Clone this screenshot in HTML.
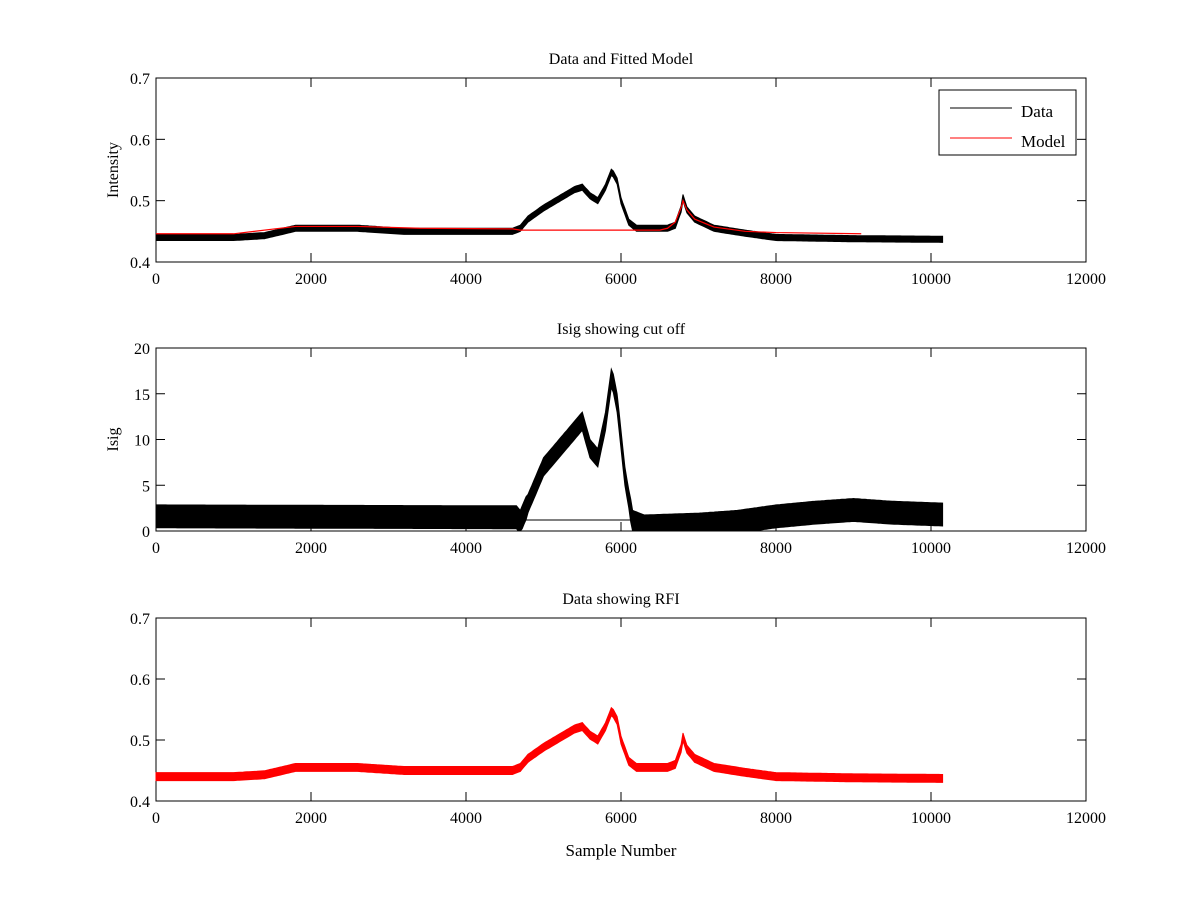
<!DOCTYPE html>
<html><head><meta charset="utf-8"><style>
body{margin:0;background:#fff}
svg text{font-family:"Liberation Serif",serif;fill:#000}
</style></head><body>
<svg id="fig" width="1200" height="900" xmlns="http://www.w3.org/2000/svg"></svg>
<script>
const dataX=[0,1000,1400,1800,2600,3200,4600,4700,4800,5000,5200,5400,5500,5600,5700,5800,5880,5950,6000,6100,6200,6600,6700,6780,6800,6850,6950,7200,7600,8000,9000,10150];
const dataY=[.440,.440,.443,.455,.455,.450,.450,.455,.470,.488,.503,.518,.522,.508,.500,.522,.548,.532,.500,.465,.455,.455,.460,.488,.505,.485,.470,.455,.447,.440,.438,.437];
const modelX=[0,1000,1800,2600,3400,4600,4700,6500,6600,6700,6780,6800,6850,6950,7200,7600,8000,9100];
const modelY=[.446,.446,.458,.458,.455,.454,.452,.452,.455,.465,.490,.500,.485,.470,.457,.450,.448,.446];
const isigX=[0,4650,4700,4800,5000,5200,5400,5500,5600,5700,5800,5880,5950,6050,6150,6300,7000,7500,8000,8500,9000,9500,10150];
const isigY=[1.6,1.5,1.0,3,7,9,11,12,9,8,12,17,14,6,1,0.5,0.7,1.0,1.6,2.0,2.3,2.0,1.8];
const xTicks=[0,2000,4000,6000,8000,10000,12000];
const intTicks=[0.4,0.5,0.6,0.7];
const isigTicks=[0,5,10,15,20];
const NS="http://www.w3.org/2000/svg";
const svg=document.getElementById('fig');
function el(t,a,p){const e=document.createElementNS(NS,t);for(const k in a)e.setAttribute(k,a[k]);(p||svg).appendChild(e);return e;}
const X0=156,X1=1086;
const sx=v=>X0+(v/12000)*(X1-X0);
function interp(xs,ys,x){for(let i=1;i<xs.length;i++){if(x<=xs[i]){const t=(x-xs[i-1])/(xs[i]-xs[i-1]);return ys[i-1]+t*(ys[i]-ys[i-1]);}}return ys[ys.length-1];}
function axes(name,top,bot,ymin,ymax,yt,title,ylab){
  const g=el('g',{});
  
  
  const sy=v=>bot-(v-ymin)/(ymax-ymin)*(bot-top);
  el('rect',{x:X0,y:top,width:X1-X0,height:bot-top,fill:'#fff',stroke:'#000','stroke-width':1},g);
  xTicks.forEach(t=>{const x=sx(t);
    el('line',{x1:x,x2:x,y1:bot,y2:bot-9,stroke:'#000'},g);
    el('line',{x1:x,x2:x,y1:top,y2:top+9,stroke:'#000'},g);
    const tx=el('text',{x:x,y:bot+22,'font-size':16,'text-anchor':'middle'},g);tx.textContent=t;
    });
  yt.forEach(t=>{const y=sy(t);
    el('line',{x1:X0,x2:X0+9,y1:y,y2:y,stroke:'#000'},g);
    el('line',{x1:X1,x2:X1-9,y1:y,y2:y,stroke:'#000'},g);
    const tx=el('text',{x:X0-6,y:y+6,'font-size':16,'text-anchor':'end'},g);tx.textContent=t;
    });
  const tt=el('text',{x:(X0+X1)/2,y:top-14,'font-size':16,'text-anchor':'middle'},g);tt.textContent=title;
  
  const yl=el('text',{x:0,y:0,'font-size':16,'text-anchor':'middle',transform:`translate(118,${(top+bot)/2}) rotate(-90)`},g);yl.textContent=ylab;
  
  return {g,sy};
}
function band(g,xs,ys,sy,noise,color,name,floor){
  let up=[],lo=[];
  for(let x=xs[0];x<=xs[xs.length-1];x+=25){const v=interp(xs,ys,x);const n=typeof noise==='function'?noise(v):noise;
    up.push(sx(x).toFixed(1)+','+sy(v+n).toFixed(1));lo.unshift(sx(x).toFixed(1)+','+sy(Math.max(floor??-1e9,v-n)).toFixed(1));}
  const p=el('polygon',{points:up.concat(lo).join(' '),fill:color,stroke:color,'stroke-width':1},g);
  
}
function line(g,xs,ys,sy,color,w,name){
  const p=el('polyline',{points:xs.map((x,i)=>sx(x)+','+sy(ys[i])).join(' '),fill:'none',stroke:color,'stroke-width':w},g);
  
}
// top
let a=axes('intensity-axes',78,262,0.4,0.7,intTicks,'Data and Fitted Model','Intensity');
band(a.g,dataX,dataY,a.sy,0.005,'#000','data-series');
line(a.g,modelX,modelY,a.sy,'#f00',1.2,'model-series');
const lg=el('g',{},a.g);
el('rect',{x:939,y:90,width:137,height:65,fill:'#fff',stroke:'#000'},lg);
el('line',{x1:950,x2:1012,y1:108,y2:108,stroke:'#000'},lg);
el('line',{x1:950,x2:1012,y1:138,y2:138,stroke:'#f00'},lg);
let t=el('text',{x:1021,y:117,'font-size':17},lg);t.textContent='Data';
t=el('text',{x:1021,y:147,'font-size':17},lg);t.textContent='Model';
// middle
let b=axes('isig-axes',348,531,0,20,isigTicks,'Isig showing cut off','Isig');
band(b.g,isigX,isigY,b.sy,v=>v<3?1.25:1.0,'#000','isig-series',0);
line(b.g,[4700,7800],[1.2,1.2],b.sy,'#000',1,'cutoff-line');
// bottom
let c=axes('rfi-axes',618,801,0.4,0.7,intTicks,'Data showing RFI','');
band(c.g,dataX,dataY,c.sy,0.0065,'#f00','rfi-series');
t=el('text',{x:621,y:856,'font-size':17,'text-anchor':'middle'});t.textContent='Sample Number';

</script>
</body></html>
